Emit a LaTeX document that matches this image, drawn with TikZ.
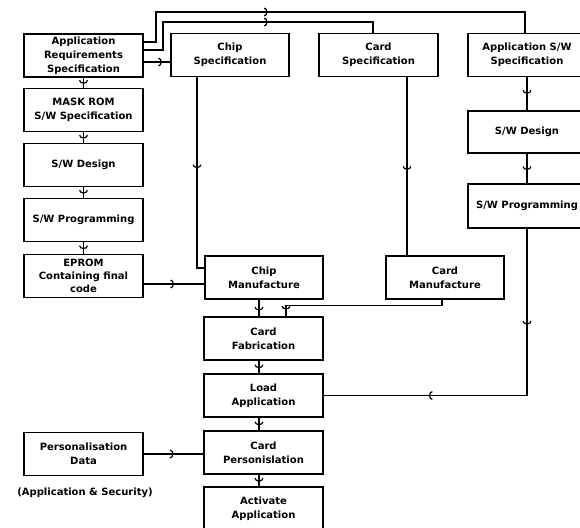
\documentclass[tikz,border=0pt]{standalone}
\usepackage{fontspec}
\setmainfont{DejaVu Sans}
\usetikzlibrary{arrows.meta,decorations.markings}
\begin{document}
\begin{tikzpicture}[x=1pt,y=-1pt,
  box/.style={draw, line width=1.2pt, minimum width=119pt, minimum height=43pt, inner sep=0pt, align=center, font=\fontsize{10}{14}\selectfont\bfseries},
  conn/.style={line width=1.2pt},
  arrowat/.style={postaction={decorate,decoration={markings,mark=at position #1 with {\arrow{Arc Barb[length=3.5pt,width=9pt,line width=1.2pt]}}}}}
]
\useasboundingbox (0,0) rectangle (580,527);
\clip (0,0) rectangle (580,527);
% left column
\node[box] (ars) at (83.5,55.5) {Application\\Requirements\\Specification};
\node[box] (mask) at (83.5,110) {MASK ROM\\S/W Specification};
\node[box] (swd) at (83.5,165) {S/W Design};
\node[box] (swp) at (83.5,220) {S/W Programming};
\node[box, font=\fontsize{10}{13}\selectfont\bfseries] (eprom) at (83.5,276) {EPROM\\Containing final\\code};
\node[box] (pdata) at (83.5,454) {Personalisation\\Data};
\node[font=\fontsize{10}{12}\selectfont\bfseries] (sec) at (85,493) {(Application \& Security)};
% top row
\node[box, minimum width=118pt] (chipspec) at (230,55) {Chip\\Specification};
\node[box] (cardspec) at (378.5,55) {Card\\Specification};
\node[box, minimum width=118pt] (appsw) at (527,55) {Application S/W\\Specification};
% right column
\node[box, minimum width=118pt, minimum height=42pt] (rswd) at (527,132) {S/W Design};
\node[box, minimum width=118pt, minimum height=44pt] (rswp) at (527,206) {S/W Programming};
% middle
\node[box, minimum width=118pt] (chipman) at (264,277.5) {Chip\\Manufacture};
\node[box, minimum width=118pt] (cardman) at (445,277.5) {Card\\Manufacture};
\node[box] (cardfab) at (263.5,338.5) {Card\\Fabrication};
\node[box] (load) at (263.5,395.5) {Load\\Application};
\node[box] (pers) at (263.5,452.5) {Card\\Personislation};
\node[box] (activ) at (263.5,508.5) {Activate\\Application};
% connectors: top
\draw[conn, arrowat=154pt] ([yshift=13.5pt]ars.east) -| (156,12) -| ([xshift=-2pt]appsw.north);
\draw[conn, arrowat=152pt] ([yshift=5.5pt]ars.east) -| (163,22) -| ([xshift=-5.5pt]cardspec.north);
\draw[conn, arrowat=0.68] ([yshift=-6.5pt]ars.east) -- ([yshift=-6.5pt]ars.east -| chipspec.west);
% left column
\draw[conn, arrowat=0.6] (ars) -- (mask);
\draw[conn, arrowat=0.6] (mask) -- (swd);
\draw[conn, arrowat=0.6] (swd) -- (swp);
\draw[conn, arrowat=0.6] (swp) -- (eprom);
\draw[conn, arrowat=0.5] ([yshift=-8pt]eprom.east) -- ([yshift=-8pt]eprom.east -| chipman.west);
\draw[conn, arrowat=0.5] (pdata.east) -- (pdata.east -| pers.west);
% spec to manufacture
\draw[conn, arrowat=91pt] ([xshift=-33pt]chipspec.south) |- ([yshift=9.5pt]chipman.west);
\draw[conn, arrowat=0.52] ([xshift=28.5pt]cardspec.south) -- ([xshift=28.5pt]cardspec.south |- cardman.north);
% right column
\draw[conn, arrowat=0.5] (appsw) -- (rswd);
\draw[conn, arrowat=0.55] (rswd) -- (rswp);
\draw[conn, arrowat=96pt, arrowat=265pt] (rswp.south) |- (load.east);
% middle column
\draw[conn, arrowat=0.65] ([xshift=-5pt]chipman.south) -- ([xshift=-4.5pt]cardfab.north);
\draw[conn, arrowat=166pt] ([xshift=-3pt]cardman.south) -- ++(0,6) -| ([xshift=22.5pt]cardfab.north);
\draw[conn, arrowat=0.6] ([xshift=-4.5pt]cardfab.south) -- ([xshift=-4.5pt]load.north);
\draw[conn, arrowat=0.6] ([xshift=-4.5pt]load.south) -- ([xshift=-4.5pt]pers.north);
\draw[conn, arrowat=0.6] ([xshift=-4.5pt]pers.south) -- ([xshift=-4.5pt]activ.north);
\end{tikzpicture}
\end{document}
